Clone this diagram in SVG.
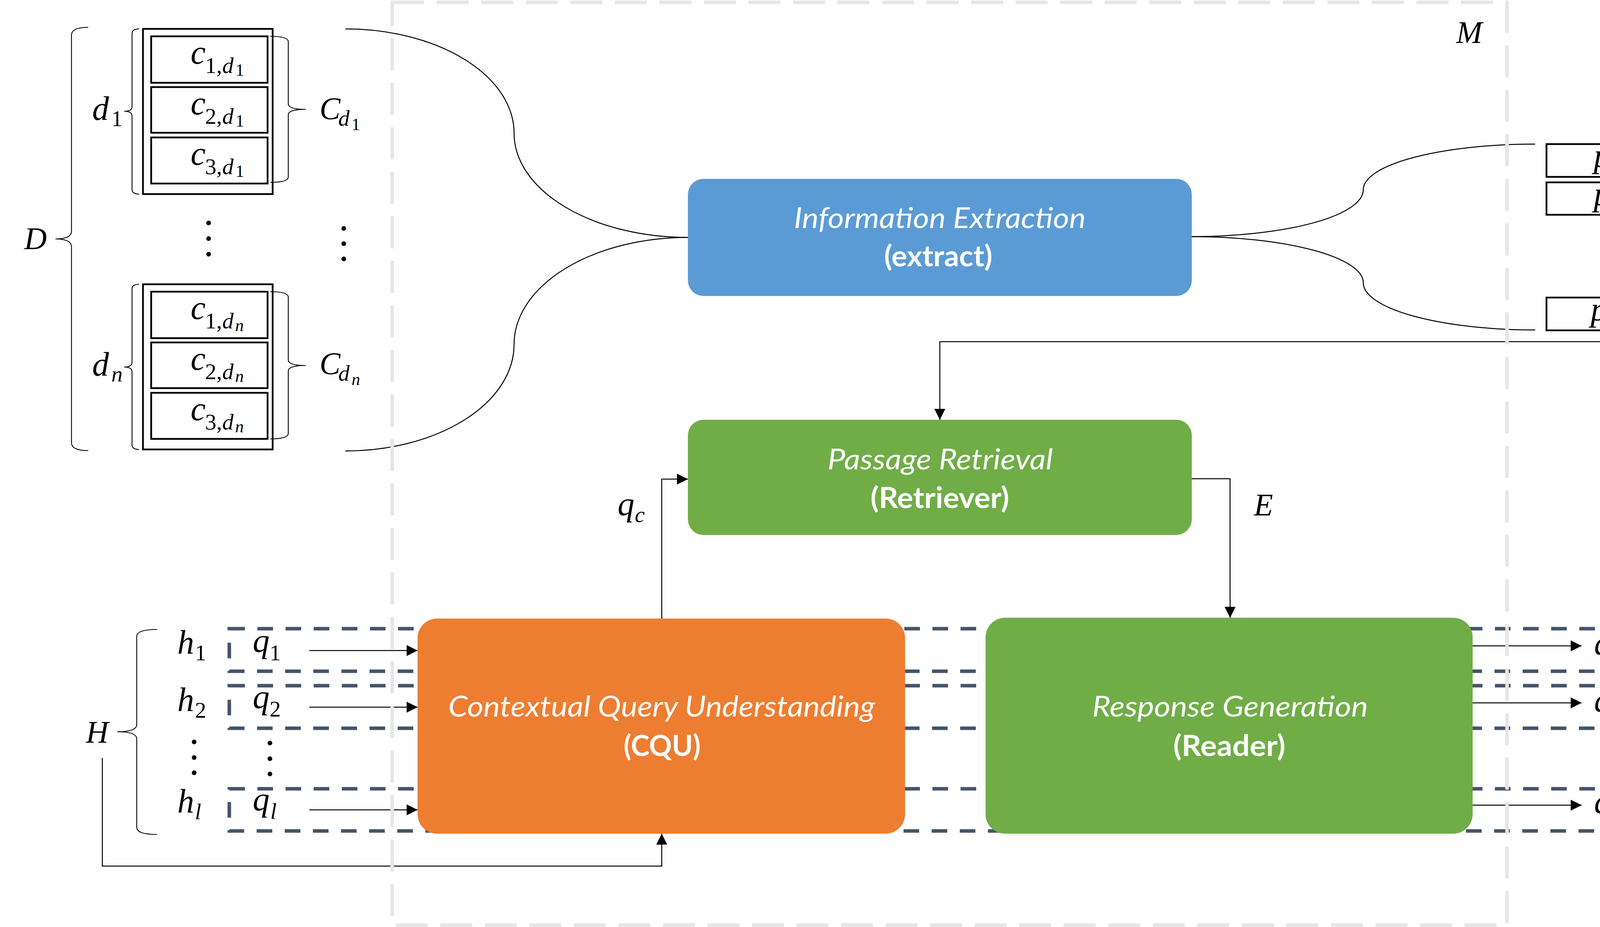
<svg xmlns="http://www.w3.org/2000/svg" width="4528" height="2374" viewBox="0 0 4528 2374">
<defs>
<style>
.m{font-family:"Liberation Serif","Times New Roman",serif;font-style:italic;font-size:86px;fill:#000}
.cap{font-size:80px}
.s{font-size:58px;font-style:normal}
.si{font-size:58px;font-style:italic}
.s2{font-size:44px;font-style:normal}
.s2i{font-size:44px;font-style:italic}
.box{fill:none;stroke:#000;stroke-width:4.5}
.brace{fill:none;stroke:#000;stroke-width:2.2}
.conn{fill:none;stroke:#000;stroke-width:2.5}
.arr{marker-end:url(#ah)}
.hbox{fill:none;stroke:#44546a;stroke-width:9;stroke-dasharray:40 32}
.frame{fill:none;stroke:#e7e6e6;stroke-width:9;stroke-dasharray:82 32}
.t1{font-family:Lato,"Open Sans","Liberation Sans",sans-serif;font-style:italic;font-size:74px;fill:#fff;text-anchor:middle}
.t2{font-family:Lato,"Open Sans","Liberation Sans",sans-serif;font-weight:bold;font-size:74px;fill:#fff;text-anchor:middle}
.dot{fill:#000}
</style>
<marker id="ah" markerUnits="userSpaceOnUse" markerWidth="30" markerHeight="30" refX="28" refY="14" orient="auto" viewBox="0 0 30 30"><path d="M0,0 L28,14 L0,28 z" fill="#000"/></marker>
</defs>
<rect width="4528" height="2374" fill="#fff"/>

<!-- History rows (dashed) -->
<g id="history-rows">
<rect class="hbox" x="587" y="1610" width="3637" height="109"/>
<rect class="hbox" x="587" y="1756" width="3637" height="109"/>
<rect class="hbox" x="587" y="2020" width="3637" height="108"/>
</g>

<!-- Document collection D -->
<g id="node-D">
<path class="brace" d="M226,70 Q183,70 183,90 L183,592 Q183,612 142,612 Q183,612 183,632 L183,1134 Q183,1154 226,1154"/>
<text class="m cap" x="62" y="638">D</text>
<circle class="dot" cx="534" cy="571" r="6"/>
<circle class="dot" cx="534" cy="611" r="6"/>
<circle class="dot" cx="534" cy="651" r="6"/>
<circle class="dot" cx="880" cy="585" r="6"/>
<circle class="dot" cx="880" cy="624" r="6"/>
<circle class="dot" cx="880" cy="663" r="6"/>
</g>

<g id="node-d1">
<path class="brace" d="M356,74 Q338,74 338,86 L338,273 Q338,285 318,285 Q338,285 338,297 L338,485 Q338,497 356,497"/>
<text class="m" x="236" y="307">d<tspan class="s" x="285" y="323">1</tspan></text>
<rect class="box" x="366" y="74" width="332" height="423"/>
<rect class="box" x="387" y="93" width="298" height="119"/>
<rect class="box" x="387" y="223" width="298" height="117"/>
<rect class="box" x="387" y="352" width="298" height="118"/>
<text class="m" x="488" y="163">c<tspan class="s" x="525" y="187">1,</tspan><tspan class="si" x="569" y="187">d</tspan><tspan class="s2" x="603" y="194">1</tspan></text>
<text class="m" x="488" y="293">c<tspan class="s" x="525" y="317">2,</tspan><tspan class="si" x="569" y="317">d</tspan><tspan class="s2" x="603" y="324">1</tspan></text>
<text class="m" x="488" y="422">c<tspan class="s" x="525" y="446">3,</tspan><tspan class="si" x="569" y="446">d</tspan><tspan class="s2" x="603" y="453">1</tspan></text>
<path class="brace" d="M692,93 Q738,93 738,107 L738,266 Q738,280 783,280 Q738,280 738,294 L738,453 Q738,467 692,467"/>
<text class="m cap" x="818" y="305">C<tspan class="si" x="866" y="322">d</tspan><tspan class="s2" x="900" y="333">1</tspan></text>
</g>

<g id="node-dn">
<path class="brace" d="M356,728 Q338,728 338,740 L338,928 Q338,940 318,940 Q338,940 338,952 L338,1139 Q338,1151 356,1151"/>
<text class="m" x="236" y="962">d<tspan class="si" x="285" y="977">n</tspan></text>
<rect class="box" x="366" y="728" width="332" height="423"/>
<rect class="box" x="387" y="747" width="298" height="119"/>
<rect class="box" x="387" y="877" width="298" height="117"/>
<rect class="box" x="387" y="1006" width="298" height="118"/>
<text class="m" x="488" y="817">c<tspan class="s" x="525" y="841">1,</tspan><tspan class="si" x="569" y="841">d</tspan><tspan class="s2i" x="602" y="848">n</tspan></text>
<text class="m" x="488" y="947">c<tspan class="s" x="525" y="971">2,</tspan><tspan class="si" x="569" y="971">d</tspan><tspan class="s2i" x="602" y="978">n</tspan></text>
<text class="m" x="488" y="1076">c<tspan class="s" x="525" y="1100">3,</tspan><tspan class="si" x="569" y="1100">d</tspan><tspan class="s2i" x="602" y="1107">n</tspan></text>
<path class="brace" d="M692,747 Q738,747 738,761 L738,922 Q738,936 783,936 Q738,936 738,950 L738,1110 Q738,1124 692,1124"/>
<text class="m cap" x="818" y="958">C<tspan class="si" x="866" y="975">d</tspan><tspan class="s2i" x="900" y="986">n</tspan></text>
</g>

<!-- Passages P -->
<g id="node-P">
<rect class="box" x="3959" y="369" width="296" height="84"/>
<rect class="box" x="3959" y="467" width="296" height="83"/>
<rect class="box" x="3959" y="762" width="296" height="84"/>
<text class="m" x="4080" y="427">p<tspan class="s" x="4125" y="441">1</tspan></text>
<text class="m" x="4080" y="525">p<tspan class="s" x="4125" y="539">2</tspan></text>
<text class="m" x="4072" y="820">p<tspan class="si" x="4118" y="834">m</tspan></text>
<circle class="dot" cx="4105" cy="617" r="6"/>
<circle class="dot" cx="4105" cy="657" r="6"/>
<circle class="dot" cx="4105" cy="697" r="6"/>
<path class="brace" d="M4288,369 Q4322,369 4322,383 L4322,590 Q4322,604 4354,604 Q4322,604 4322,618 L4322,827 Q4322,841 4288,841"/>
<text class="m cap" x="4396" y="636">P</text>
</g>

<!-- History H -->
<g id="node-H">
<path class="brace" d="M402,1612 Q350,1612 350,1630 L350,1856 Q350,1874 300,1874 Q350,1874 350,1892 L350,2119 Q350,2137 402,2137"/>
<text class="m cap" x="220" y="1902">H</text>
<text class="m" x="454" y="1674">h<tspan class="s" x="499" y="1691">1</tspan></text>
<text class="m" x="454" y="1821">h<tspan class="s" x="499" y="1838">2</tspan></text>
<text class="m" x="454" y="2081">h<tspan class="si" x="499" y="2098">l</tspan></text>
<circle class="dot" cx="497" cy="1900" r="6"/>
<circle class="dot" cx="497" cy="1940" r="6"/>
<circle class="dot" cx="497" cy="1979" r="6"/>
<text class="m" x="647" y="1669">q<tspan class="s" x="690" y="1691">1</tspan></text>
<text class="m" x="647" y="1813">q<tspan class="s" x="690" y="1835">2</tspan></text>
<text class="m" x="647" y="2075">q<tspan class="si" x="692" y="2097">l</tspan></text>
<circle class="dot" cx="691" cy="1903" r="6"/>
<circle class="dot" cx="691" cy="1943" r="6"/>
<circle class="dot" cx="691" cy="1982" r="6"/>
</g>

<!-- Answers -->
<g id="node-A">
<text class="m" x="4081" y="1676">a<tspan class="s" x="4126" y="1693">1</tspan></text>
<text class="m" x="4081" y="1822">a<tspan class="s" x="4126" y="1839">2</tspan></text>
<text class="m" x="4081" y="2082">a<tspan class="si" x="4128" y="2099">l</tspan></text>
<circle class="dot" cx="4127" cy="1902" r="6"/>
<circle class="dot" cx="4127" cy="1942" r="6"/>
<circle class="dot" cx="4127" cy="1982" r="6"/>
</g>

<g id="node-IE">
<rect x="1761" y="458" width="1290" height="300" rx="40" fill="#5b9bd5"/>
<text class="t1" x="2406" y="584" textLength="747" lengthAdjust="spacingAndGlyphs">Information Extraction</text>
<text class="t2" x="2402" y="682" textLength="277" lengthAdjust="spacingAndGlyphs">(extract)</text>
</g>

<g id="node-PR">
<rect x="1761" y="1075" width="1290" height="295" rx="40" fill="#70ad47"/>
<text class="t1" x="2407" y="1202" textLength="577" lengthAdjust="spacingAndGlyphs">Passage Retrieval</text>
<text class="t2" x="2406" y="1301" textLength="355" lengthAdjust="spacingAndGlyphs">(Retriever)</text>
</g>

<g id="node-CQU">
<rect x="1069" y="1584" width="1248" height="551" rx="50" fill="#ed7d31"/>
<text class="t1" x="1694" y="1835" textLength="1093" lengthAdjust="spacingAndGlyphs">Contextual Query Understanding</text>
<text class="t2" x="1695" y="1936" textLength="197" lengthAdjust="spacingAndGlyphs">(CQU)</text>
</g>

<g id="node-RG">
<rect x="2523" y="1582" width="1247" height="553" rx="50" fill="#70ad47"/>
<text class="t1" x="3149" y="1835" textLength="706" lengthAdjust="spacingAndGlyphs">Response Generation</text>
<text class="t2" x="3147" y="1936" textLength="287" lengthAdjust="spacingAndGlyphs">(Reader)</text>
</g>

<g id="connectors">
<path class="conn" d="M884,74 A432,267 0 0 1 1316,341 A445,267 0 0 0 1761,608"/>
<path class="conn" d="M884,1155 A432,273 0 0 0 1316,882 A445,274 0 0 1 1761,608"/>
<path class="conn" d="M3051,606 A439,120 0 0 0 3490,486 A440,117 0 0 1 3930,369"/>
<path class="conn" d="M3051,606 A439,118 0 0 1 3490,724 A440,121 0 0 0 3930,845"/>
<path class="conn arr" d="M4432,676 L4432,875 L2406,875 L2406,1075"/>
<path class="conn arr" d="M1694,1584 L1694,1227 L1761,1227"/>
<path class="conn arr" d="M3051,1226 L3149,1226 L3149,1582"/>
<path class="conn arr" d="M262,1941 L262,2218 L1694,2218 L1694,2135"/>
<path class="conn arr" d="M792,1666 L1069,1666"/>
<path class="conn arr" d="M792,1811 L1069,1811"/>
<path class="conn arr" d="M792,2074 L1069,2074"/>
<path class="conn arr" d="M3770,1654 L4049,1654"/>
<path class="conn arr" d="M3770,1800 L4049,1800"/>
<path class="conn arr" d="M3770,2062 L4049,2062"/>
<text class="m" x="1581" y="1319">q<tspan class="si" x="1625" y="1337">c</tspan></text>
<text class="m cap" x="3210" y="1320">E</text>
</g>

<g id="node-M">
<rect class="frame" x="1004" y="6" width="2854" height="2363"/>
<text class="m cap" x="3728" y="110">M</text>
</g>
</svg>
